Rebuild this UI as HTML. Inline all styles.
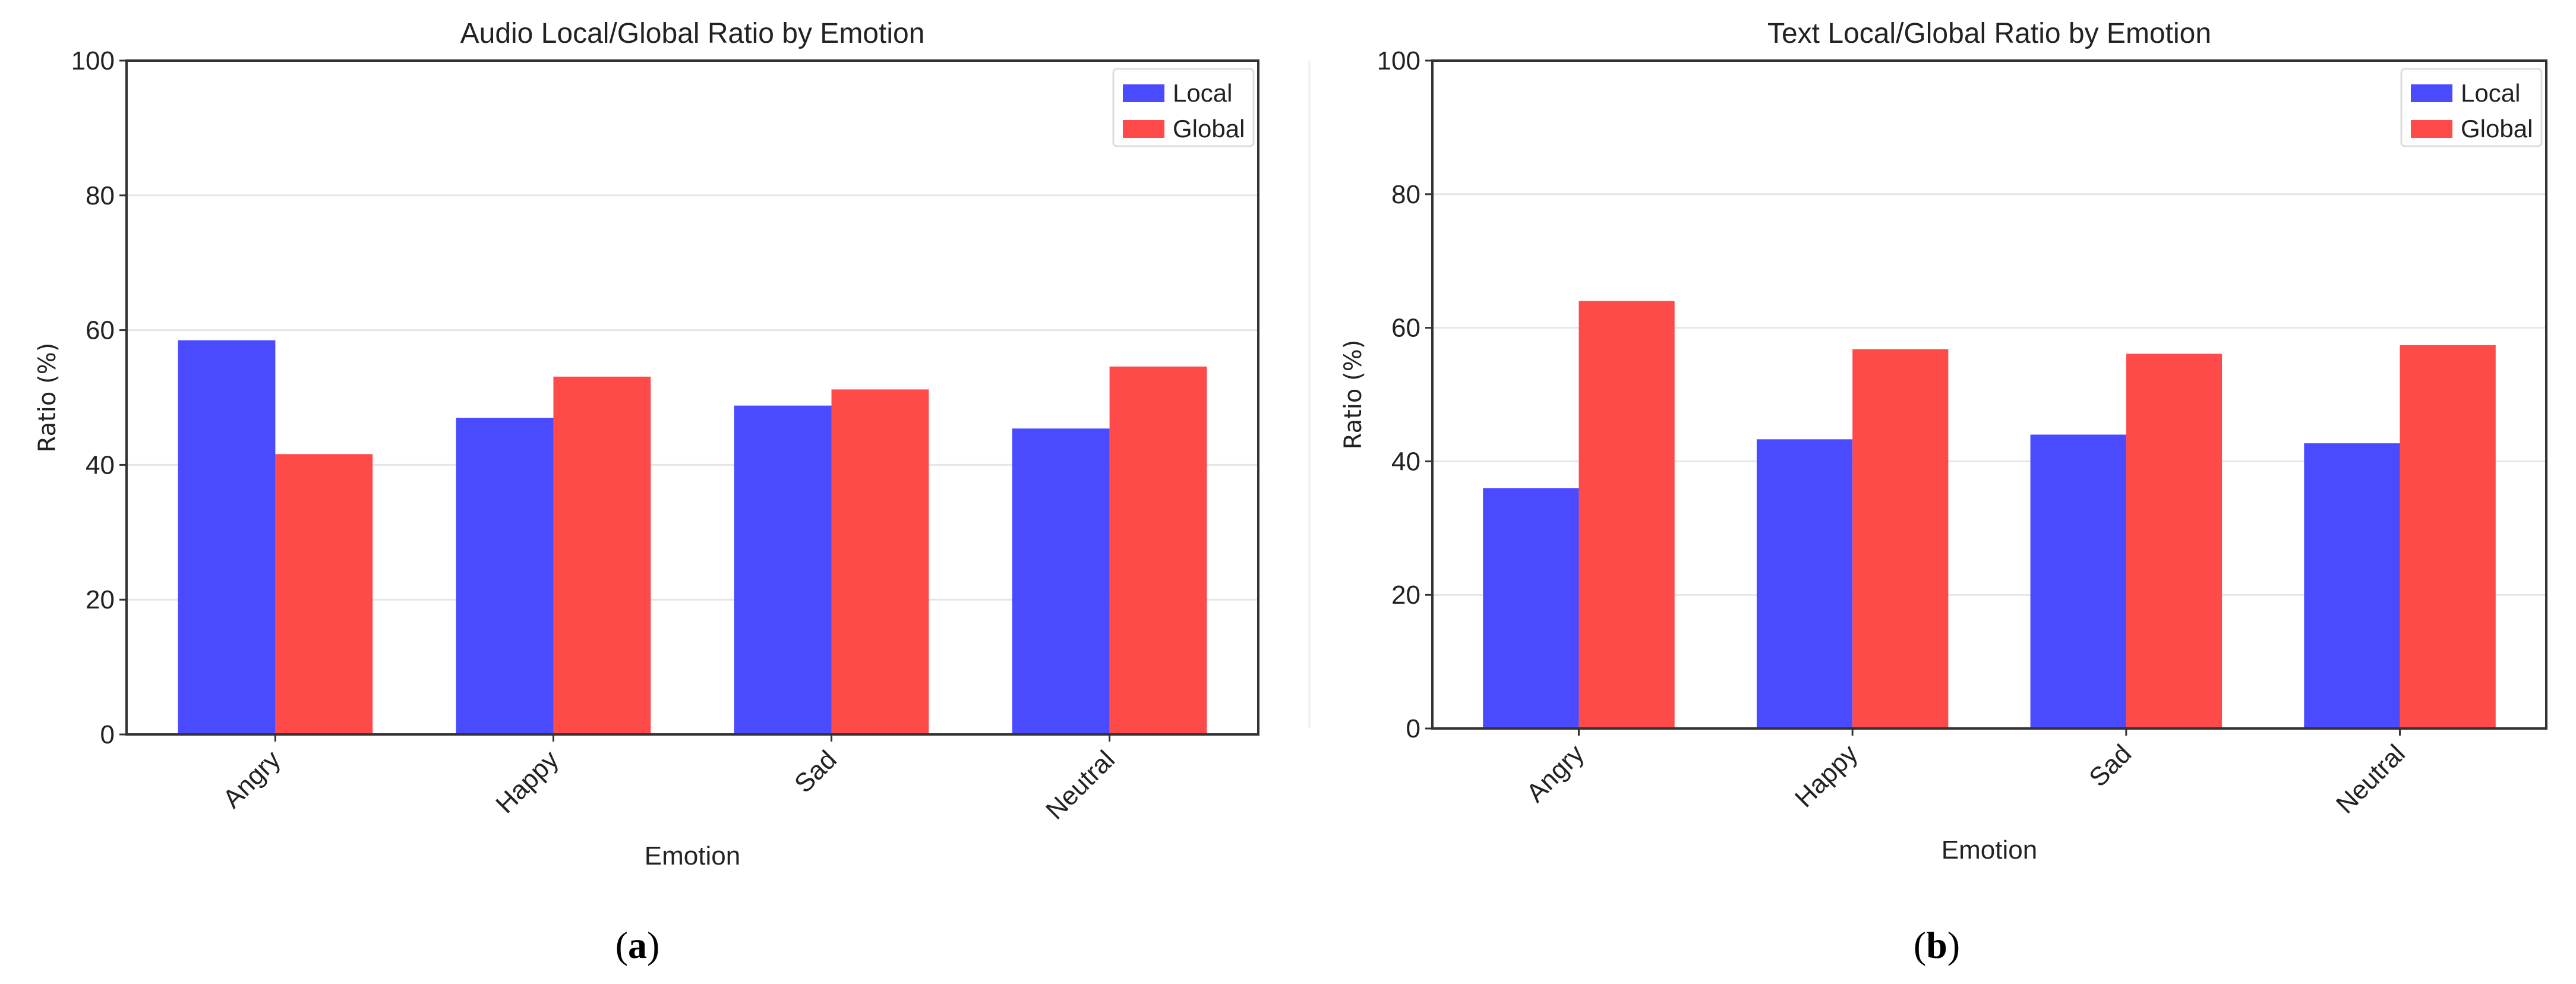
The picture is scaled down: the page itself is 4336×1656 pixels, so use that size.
<!DOCTYPE html>
<html><head><meta charset="utf-8"><style>
html,body{margin:0;padding:0;background:#fff;}
svg{display:block;font-family:"Liberation Sans","DejaVu Sans",sans-serif;}
</style></head><body>
<svg id="fig" width="4336" height="1656" viewBox="0 0 4336 1656">
<line x1="2204" y1="102" x2="2204" y2="1225" stroke="#eeeeee" stroke-width="3"/>
</svg>
<script>
const categories = ["Angry","Happy","Sad","Neutral"];
const audioLocal = [58.5, 47.0, 48.8, 45.4];
const audioGlobal = [41.6, 53.1, 51.2, 54.6];
const textLocal = [36.0, 43.3, 44.0, 42.7];
const textGlobal = [64.0, 56.8, 56.1, 57.4];
const yTicks = [0, 20, 40, 60, 80, 100];
const seriesNames = ["Local", "Global"];

const NS = "http://www.w3.org/2000/svg";
const svg = document.getElementById("fig");
function mk(tag, attrs, parent, text){
  const e = document.createElementNS(NS, tag);
  for (const k in attrs) e.setAttribute(k, attrs[k]);
  if (text !== undefined) e.textContent = text;
  (parent || svg).appendChild(e);
  return e;
}
function panel(cfg){
  const g = mk("g", {});
  
  
  const L = cfg.L, R = cfg.R, T = cfg.T, B = cfg.B;
  const n = categories.length, w = 0.35;
  const xmin = -w - 0.05*(n - 1 + 2*w), xmax = (n - 1) + w + 0.05*(n - 1 + 2*w);
  const sx = v => L + (v - xmin) / (xmax - xmin) * (R - L);
  const sy = v => B - v / 100 * (B - T);
  yTicks.forEach(t => {
    if (t > 0 && t < 100) {
      const gl = mk("line", {x1: L, x2: R, y1: sy(t), y2: sy(t), stroke: "#e6e6e6", "stroke-width": 3}, g);
      
      
    }
  });
  const cols = ["#4a4aff", "#ff4a4a"];
  [cfg.local, cfg.global].forEach((vals, si) => {
    vals.forEach((v, i) => {
      const x0 = si === 0 ? sx(i - w) : sx(i);
      const x1 = si === 0 ? sx(i) : sx(i + w);
      const r = mk("rect", {x: x0, y: sy(v), width: x1 - x0, height: sy(0) - sy(v), fill: cols[si]}, g);
      
      
    });
  });
  const fr = mk("rect", {x: L, y: T, width: R - L, height: B - T, fill: "none", stroke: "#333", "stroke-width": 4}, g);
  
  
  yTicks.forEach(t => {
    mk("line", {x1: L - 12, x2: L, y1: sy(t), y2: sy(t), stroke: "#333", "stroke-width": 3}, g);
    const tl = mk("text", {x: L - 20, y: sy(t) + 15, "text-anchor": "end", "font-size": 44, fill: "#222"}, g, String(t));
    
    
  });
  categories.forEach((c, i) => {
    const x = sx(i);
    mk("line", {x1: x, x2: x, y1: B, y2: B + 12, stroke: "#333", "stroke-width": 3}, g);
    const tl = mk("text", {x: x, y: B + 50, "text-anchor": "end", "font-size": 44, fill: "#222", transform: `rotate(-45 ${x} ${B + 34})`}, g, c);
    
    
  });
  const tt = mk("text", {x: (L + R) / 2, y: T - 30, "text-anchor": "middle", "font-size": 48, fill: "#222"}, g, cfg.title);
  
  
  const yl = mk("text", {x: 0, y: 0, "text-anchor": "middle", "font-size": 40, "font-family": "DejaVu Sans, sans-serif", fill: "#222", transform: `translate(${L - 120} ${(T + B) / 2}) rotate(-90)`}, g, "Ratio (%)");
  
  
  const xl = mk("text", {x: (L + R) / 2, y: cfg.xlY, "text-anchor": "middle", "font-size": 44, fill: "#222"}, g, "Emotion");
  
  
  const lg = mk("g", {}, g);
  
  
  const lx = R - 244, ly = T + 14;
  mk("rect", {x: lx, y: ly, width: 236, height: 130, rx: 6, fill: "#fff", stroke: "#ddd", "stroke-width": 3}, lg);
  seriesNames.forEach((s, si) => {
    const sw = mk("rect", {x: lx + 16, y: ly + 26 + si * 60, width: 70, height: 30, fill: cols[si]}, lg);
    
    
    const t = mk("text", {x: lx + 100, y: ly + 55 + si * 60, "font-size": 42, fill: "#222"}, lg, s);
    
    
  });
  const cap = mk("text", {x: cfg.capX, y: 1612, "text-anchor": "middle", "font-size": 64, fill: "#000", "font-family": "Liberation Serif, serif"}, g);
  
  
  mk("tspan", {}, cap, "(");
  mk("tspan", {"font-weight": "bold"}, cap, cfg.cap);
  mk("tspan", {}, cap, ")");
}
panel({id: "audio-chart", L: 213, R: 2118, T: 102, B: 1236, local: audioLocal, global: audioGlobal, title: "Audio Local/Global Ratio by Emotion", xlY: 1455, capX: 1073, cap: "a"});
panel({id: "text-chart", L: 2411, R: 4286, T: 102, B: 1226, local: textLocal, global: textGlobal, title: "Text Local/Global Ratio by Emotion", xlY: 1445, capX: 3260, cap: "b"});
</script>
</body></html>
